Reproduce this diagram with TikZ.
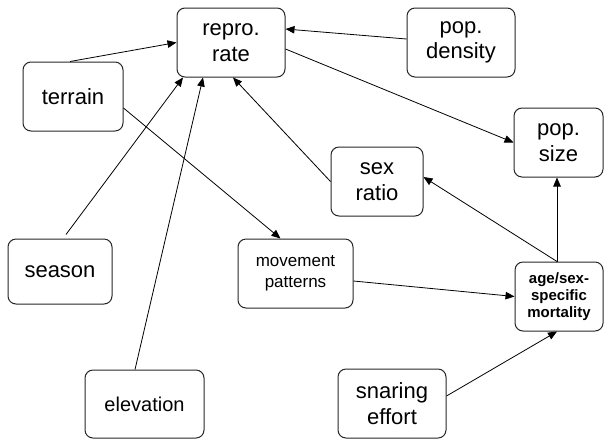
\documentclass[tikz,border=0pt]{standalone}
\usepackage{fontspec}
\setmainfont{Liberation Sans}
\usetikzlibrary{arrows.meta}
\tikzset{
  box/.style={draw=black!85, line width=1pt, rounded corners=8pt, inner sep=0pt, align=center},
  big/.style={font=\fontsize{22}{25.5}\selectfont},
  arr/.style={draw=black, line width=0.8pt, -{Triangle[length=9pt,width=7.5pt]}},
}
\begin{document}
\begin{tikzpicture}[x=1pt,y=-1pt]
\useasboundingbox (0,0) rectangle (604,440);
\node[box,big,minimum width=108pt,minimum height=69pt] (repro) at (231,42.5) {repro.\\rate};
\node[box,big,minimum width=108pt,minimum height=69pt] (density) at (461,42.5) {pop.\\density};
\node[box,big,minimum width=100pt,minimum height=69pt] (terrain) at (73,96.5) {terrain};
\node[box,big,minimum width=89pt,minimum height=69pt] (popsize) at (558.5,142.5) {pop.\\size};
\node[box,big,minimum width=92pt,minimum height=69pt] (sexratio) at (377,181.5) {sex\\ratio};
\node[box,big,minimum width=104pt,minimum height=65pt] (season) at (60,271.5) {season};
\node[box,font=\fontsize{17}{20.5}\selectfont,minimum width=115pt,minimum height=69pt] (movement) at (295.5,273.5) {movement\\patterns};
\node[box,font=\fontsize{15}{17}\selectfont\bfseries,minimum width=88pt,minimum height=69pt] (age) at (559,296.5) {age/sex-\\specific\\mortality};
\node[box,font=\fontsize{20}{24}\selectfont,minimum width=119pt,minimum height=68pt] (elevation) at (144.5,404) {elevation};
\node[box,big,minimum width=108pt,minimum height=69pt] (snaring) at (392,403.5) {snaring\\effort};

\draw[arr] ([xshift=-3pt]terrain.north) -- (repro.west);
\draw[arr] ([yshift=3.5pt]density.west) -- ([yshift=13.5pt]repro.east);
\draw[arr] ([yshift=-6.5pt]repro.east) -- (popsize.west);
\draw[arr] ([xshift=6pt,yshift=4pt]season.north) -- ([xshift=-48pt]repro.south);
\draw[arr] ([xshift=-9.5pt]elevation.north) -- ([xshift=-28pt]repro.south);
\draw[arr] (sexratio.west) -- ([xshift=2pt]repro.south);
\draw[arr] ([yshift=-11.5pt]terrain.east) -- ([xshift=-15pt]movement.north);
\draw[arr] ([yshift=-7.5pt]movement.east) -- (age.west);
\draw[arr] ([xshift=-2pt]age.north) -- ([yshift=4.5pt]sexratio.east);
\draw[arr] ([xshift=-2pt]age.north) -- ([xshift=-1.5pt]popsize.south);
\draw[arr] ([yshift=7.5pt]snaring.east) -- ([xshift=-2pt]age.south);
\end{tikzpicture}
\end{document}
